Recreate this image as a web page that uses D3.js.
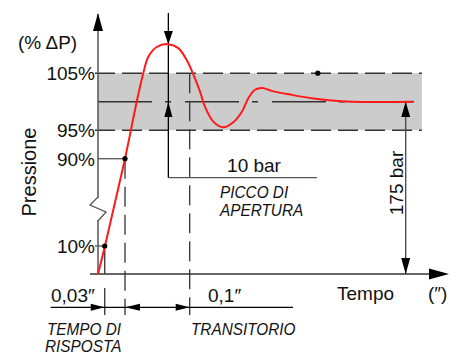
<!DOCTYPE html>
<html lang="it">
<head>
  <meta charset="UTF-8">
  <title>Pressione - tempo di risposta</title>
  <style>
    body { margin: 0; background: #fff; }
    svg { display: block; }
    text { font-family: "Liberation Sans", Arial, sans-serif; fill: #111; }
    .it { font-style: italic; }
  </style>
</head>
<body>
  <svg id="chart"></svg>
  <script src="https://cdn.jsdelivr.net/npm/d3@7/dist/d3.min.js"></script>
  <script>
    var w = 459, h = 354;

    // pressure curve (time in s, pressure in % of set point)
    var timeVals = [0, 0.010, 0.0386, 0.0457, 0.0553, 0.0647, 0.0719, 0.0839, 0.0996, 0.1147,
                    0.1267, 0.1361, 0.1457, 0.1529, 0.1647, 0.1790, 0.1933, 0.2053, 0.2147,
                    0.2243, 0.2347, 0.2481, 0.2767, 0.3053, 0.3339, 0.3624, 0.4514];
    var pressVals = [0, 10, 90, 94.2, 100, 105, 107.9, 109.6, 110.1, 109.4,
                     107.3, 104.8, 101.8, 99.1, 96.5, 95.5, 96.4, 98.2, 100.6,
                     102.1, 102.4, 101.9, 101.2, 100.6, 100.2, 100, 100];

    var yTicks = [105, 95, 90, 10];
    var yTickLabels = ["105%", "95%", "90%", "10%"];
    var bandLow = 95, bandHigh = 105, setPoint = 100;

    var t10 = 0.0096, t90 = 0.0386, tTrans = 0.131, tPeak = 0.1005, tDot = 0.314, tEnd = 0.457;
    var peakVal = 110.1;

    // broken axis: 0..10 and 10..90 are squeezed
    var x = d3.scaleLinear().domain([0, 0.5]).range([98, 448]);
    var y = d3.scaleLinear().domain([0, 10, 90, 105]).range([274, 246, 158.7, 73.2]);

    var svg = d3.select("#chart").attr("width", w).attr("height", h);

    // grey tolerance band
    svg.append("rect")
      .attr("x", x(0)).attr("y", y(bandHigh))
      .attr("width", x(tEnd) - x(0) + 4).attr("height", y(bandLow) - y(bandHigh))
      .attr("fill", "#cccccc");

    var dark = "#333";
    function line(x1, y1, x2, y2, col, sw, dash) {
      var l = svg.append("line")
        .attr("x1", x1).attr("y1", y1).attr("x2", x2).attr("y2", y2)
        .attr("stroke", col || dark).attr("stroke-width", sw || 1.3);
      if (dash) l.attr("stroke-dasharray", dash);
      return l;
    }
    function tri(pts, col) {
      svg.append("path").attr("d", "M" + pts.join("L") + "Z").attr("fill", col || "#000");
    }

    // band limits and set point line
    line(x(0) - 3, y(bandHigh), x(tEnd) + 4, y(bandHigh), dark, 1.4, "20,7");
    line(x(0) - 3, y(bandLow), x(tEnd) + 4, y(bandLow), dark, 1.4, "20,7");
    line(x(0), y(setPoint), x(tEnd), y(setPoint), dark, 1.4, "54,13,6,14");

    // axes
    line(x(0), 14, x(0), y(0), "#555", 1.5);
    tri([[x(0), 13], [x(0) - 5, 31], [x(0) + 5, 31]], "#000");
    line(90, y(0), 432, y(0), "#333", 1.5);
    tri([[449, y(0)], [429, y(0) - 5.5], [429, y(0) + 5.5]], "#000");

    // axis break
    svg.append("rect").attr("x", x(0) - 1).attr("y", 198).attr("width", 2).attr("height", 22).attr("fill", "#fff");
    svg.append("path")
      .attr("d", "M" + x(0) + ",197 L90,205 L106,212 L" + x(0) + ",221")
      .attr("fill", "none").attr("stroke", "#555").attr("stroke-width", 1.3);

    // helper lines to 10% and 90%
    line(x(0), y(90), x(t90), y(90), "#555", 1.3);
    line(x(0) - 3, y(10), x(t10), y(10), "#555", 1.3);
    line(x(t10), y(10), x(t10), y(0), dark, 1.3);
    line(x(t10), 288, x(t10), 315, dark, 1.3);
    line(x(t90), y(90), x(t90), 315, dark, 1.3, "20,8");
    line(x(tTrans), y(bandHigh), x(tTrans), 315, dark, 1.3, "20,8");

    // peak dimension
    line(x(tPeak), 13, x(tPeak), 177.7, "#000", 1.3);
    tri([[x(tPeak), y(peakVal)], [x(tPeak) - 4.5, 31], [x(tPeak) + 4.5, 31]]);
    tri([[x(tPeak), y(setPoint)], [x(tPeak) - 4, 117], [x(tPeak) + 4, 117]]);
    line(x(tPeak), 177.7, 317, 177.7, "#555", 1.3);

    // 175 bar dimension
    var xr = 405.7;
    line(xr, y(setPoint), xr, y(0), "#444", 1.3);
    tri([[xr, y(setPoint)], [xr - 4.5, 117], [xr + 4.5, 117]]);
    tri([[xr, y(0)], [xr - 4.5, 258], [xr + 4.5, 258]]);

    // bottom time dimensions
    var yd = 307.3;
    line(50.7, yd, 293, yd, "#000", 1.3);
    tri([[x(t10), yd], [x(t10) - 14, yd - 3.5], [x(t10) - 14, yd + 3.5]]);
    tri([[x(t90), yd], [x(t90) + 15, yd - 3.5], [x(t90) + 15, yd + 3.5]]);
    tri([[x(tTrans), yd], [x(tTrans) - 14, yd - 3.5], [x(tTrans) - 14, yd + 3.5]]);

    // red pressure curve: straight rise, then smooth oscillation
    var pts = timeVals.map(function (t, i) { return [t, pressVals[i]]; });
    var lineGen = d3.line()
      .x(function (d) { return x(d[0]); })
      .y(function (d) { return y(d[1]); });
    svg.append("path")
      .datum(pts.slice(0, 3))
      .attr("d", lineGen)
      .attr("fill", "none").attr("stroke", "#ff1a1a").attr("stroke-width", 2);
    svg.append("path")
      .datum(pts.slice(2))
      .attr("d", lineGen.curve(d3.curveCatmullRom.alpha(0.5)))
      .attr("fill", "none").attr("stroke", "#ff1a1a").attr("stroke-width", 2);

    // dots
    svg.selectAll("circle.pt")
      .data([[t10, 10], [t90, 90], [tDot, bandHigh]])
      .enter().append("circle")
        .attr("cx", function (d) { return x(d[0]); })
        .attr("cy", function (d) { return y(d[1]); })
        .attr("r", 2.6).attr("fill", "#000");

    // y tick labels
    svg.selectAll("text.tick")
      .data(yTicks)
      .enter().append("text")
        .attr("x", 95)
        .attr("y", function (d) { return y(d); })
        .attr("dy", "0.36em")
        .attr("text-anchor", "end")
        .attr("font-size", 19)
        .text(function (d, i) { return yTickLabels[i]; });

    function label(txt, px, py, size, cls, anchor) {
      return svg.append("text").attr("x", px).attr("y", py)
        .attr("font-size", size).attr("class", cls || null)
        .attr("text-anchor", anchor || "start").text(txt);
    }
    // narrow italic captions
    function caption(txt, px, py) {
      return svg.append("text").attr("class", "it")
        .attr("transform", "translate(" + px + "," + py + ") scale(0.93,1)")
        .attr("font-size", 16.5).text(txt);
    }

    label("(% \u0394P)", 18, 49, 19);
    svg.append("text").attr("transform", "translate(36,172) rotate(-90)")
      .attr("text-anchor", "middle").attr("font-size", 20).text("Pressione");
    svg.append("text").attr("transform", "translate(403,183) rotate(-90)")
      .attr("text-anchor", "middle").attr("font-size", 19).text("175 bar");

    label("10 bar", 254, 172, 19, null, "middle");
    caption("PICCO DI", 220, 198);
    caption("APERTURA", 220, 216);
    label("Tempo", 337, 300, 19);
    label("(\u2033)", 428, 300, 19);
    label("0,03\u2033", 51, 302, 19);
    label("0,1\u2033", 208, 302, 19);
    caption("TEMPO DI", 47, 335);
    caption("RISPOSTA", 45, 352);
    caption("TRANSITORIO", 191, 335);
  </script>
</body>
</html>
